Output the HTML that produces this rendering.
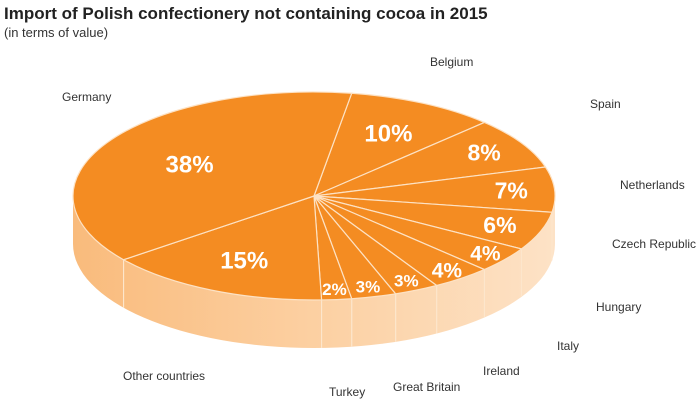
<!DOCTYPE html>
<html><head><meta charset="utf-8"><style>
body{margin:0;background:#fff;font-family:"Liberation Sans",sans-serif}
#wrap{position:relative;width:700px;height:408px;overflow:hidden}
.t{position:absolute;left:4px;top:4px;font-size:17px;font-weight:bold;color:#222}
.s{position:absolute;left:4px;top:25px;font-size:13px;color:#333}
</style></head><body>
<div id="wrap">
<div class="t">Import of Polish confectionery not containing cocoa in 2015</div>
<div class="s">(in terms of value)</div>
<svg id="pie" width="700" height="408" style="position:absolute;left:0;top:0">
<defs><linearGradient id="sg" x1="0" x2="1" y1="0" y2="0"><stop offset="0" stop-color="#f9bb7c"/><stop offset="0.5" stop-color="#fcd0a2"/><stop offset="1" stop-color="#fde2c6"/></linearGradient></defs>
</svg>
</div>
<script>
const categories=["Belgium","Spain","Netherlands","Czech Republic","Hungary","Italy","Ireland","Great Britain","Turkey","Other countries","Germany"];
const values=[10,8,7,6,4,4,3,3,2,15,38];
const labelPos=[[430,62],[590,104],[620,185],[612,244],[596,307],[557,346],[483,371],[393,387],[329,392],[123,376],[62,97]];
const cx=314,cy=196,rx=241,ry=104,depth=48,startDeg=-81;
const svg=document.getElementById('pie');const NS='http://www.w3.org/2000/svg';
function mk(t,a){const e=document.createElementNS(NS,t);for(const k in a)e.setAttribute(k,a[k]);svg.appendChild(e);return e;}
function pt(deg,r){const t=deg*Math.PI/180;return [cx+rx*r*Math.cos(t),cy+ry*r*Math.sin(t)];}
const side=mk('path',{d:`M${cx+rx},${cy} A${rx},${ry} 0 0 1 ${cx-rx},${cy} L${cx-rx},${cy+depth} A${rx},${ry} 0 0 0 ${cx+rx},${cy+depth} Z`,fill:'url(#sg)'});


const total=values.reduce((a,b)=>a+b,0);
let a=startDeg;
values.forEach((v,i)=>{
 const sweep=v/total*360,a2=a+sweep;
 const p1=pt(a,1),p2=pt(a2,1);
 // side edge line
 [a,a2].forEach(ang=>{const n=((ang%360)+360)%360;if(n>0&&n<180){const p=pt(ang,1);const l=mk('line',{x1:p[0],y1:p[1],x2:p[0],y2:p[1]+depth,stroke:'#fde6cc','stroke-width':1});}});
 const s=mk('path',{d:`M${cx},${cy} L${p1[0]},${p1[1]} A${rx},${ry} 0 ${sweep>180?1:0} 1 ${p2[0]},${p2[1]} Z`,fill:'#f48c22',stroke:'#fde2c4','stroke-width':1.2});
 
 
 const mid=(a+a2)/2;
 const r=v>=30?0.6:v>=10?0.68:v>=6?0.82:0.9;
 const lp=pt(mid,r);
 const fs=v>=10?24:v>=6?23:v>=4?21:17;
 const tx=mk('text',{x:lp[0],y:lp[1]+fs*0.35,'text-anchor':'middle','font-size':fs,'font-weight':'bold',fill:'#fff','font-family':'Liberation Sans, sans-serif'});
 tx.textContent=v+'%';
 
 
 const c=mk('text',{x:labelPos[i][0],y:labelPos[i][1]+4,'font-size':12,fill:'#333','font-family':'Liberation Sans, sans-serif'});
 c.textContent=categories[i];
 
 
 a=a2;
});
</script>
</body></html>
